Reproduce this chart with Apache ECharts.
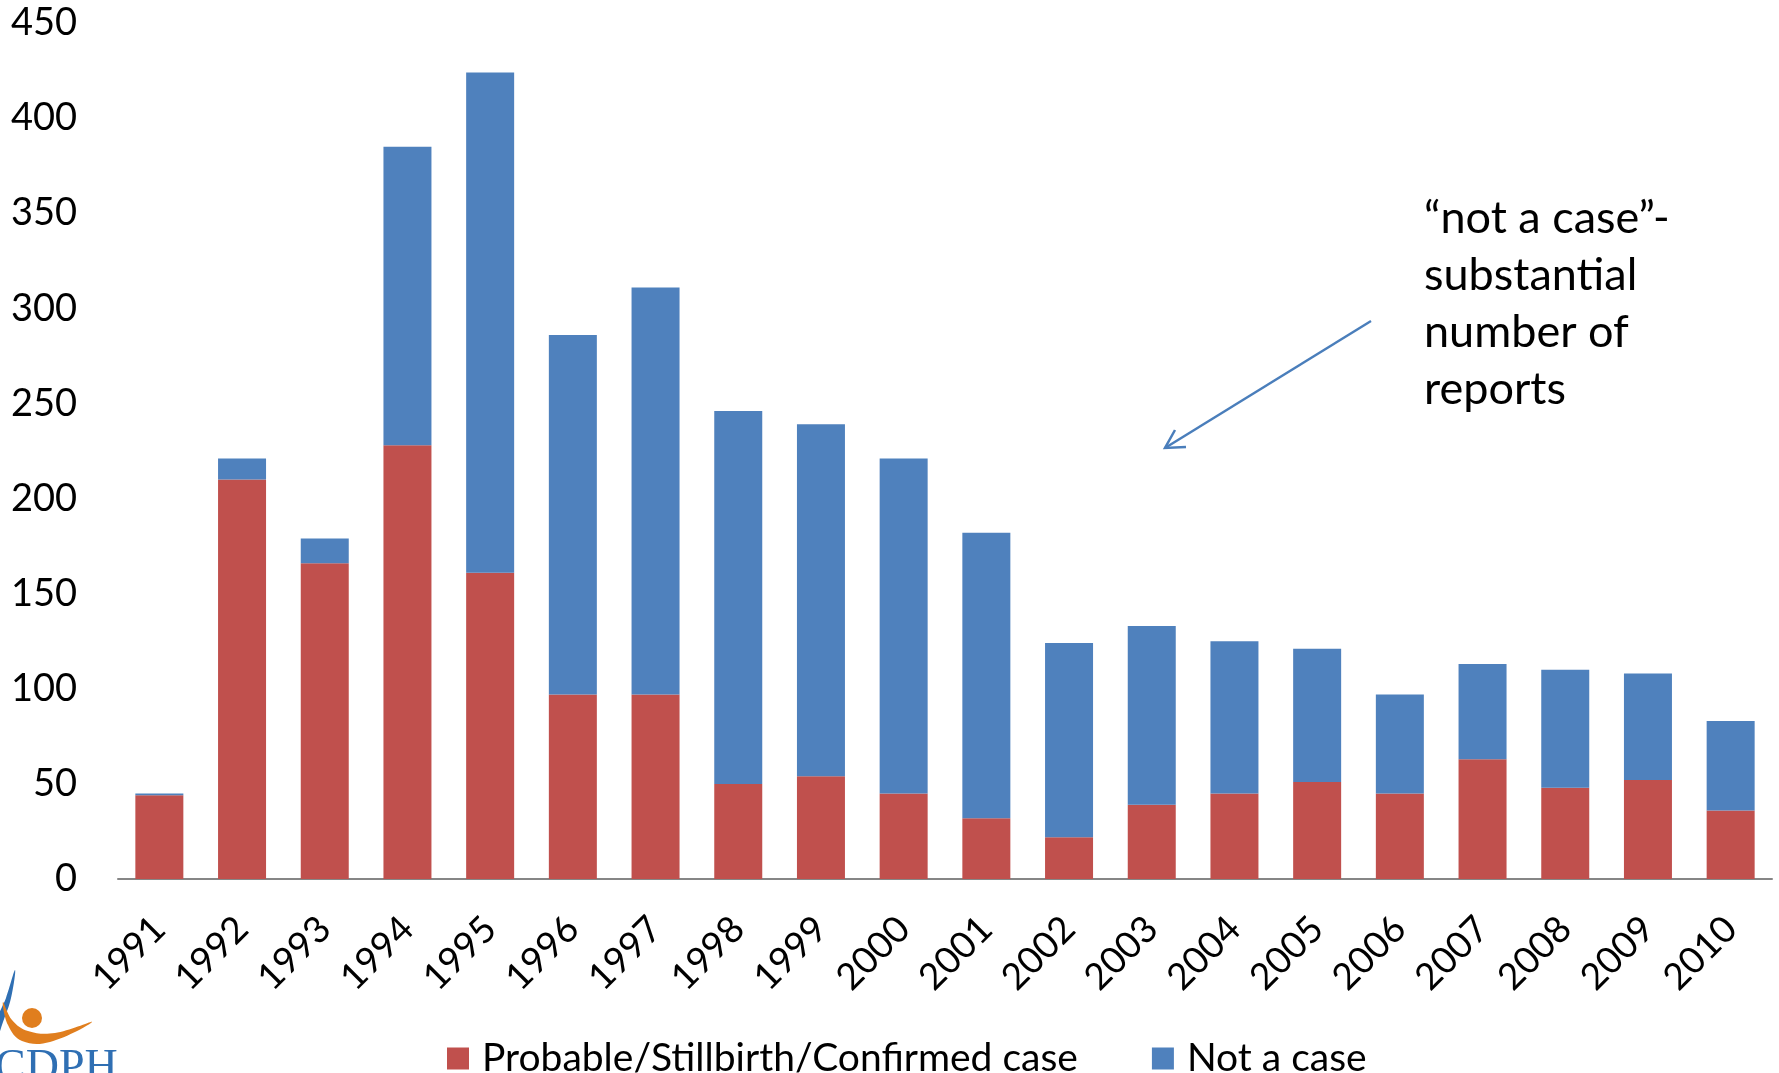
<!DOCTYPE html>
<html>
<head>
<meta charset="utf-8">
<title>Congenital syphilis reports by year</title>
<script src="https://cdn.jsdelivr.net/npm/echarts@6/dist/echarts.min.js"></script>
<style>
  html, body { margin: 0; padding: 0; background: #ffffff; }
  #chart { width: 1779px; height: 1073px; }
</style>
</head>
<body>
<div id="chart"></div>
<script>
// Report years on the category axis
const years = ['1991','1992','1993','1994','1995','1996','1997','1998','1999','2000',
               '2001','2002','2003','2004','2005','2006','2007','2008','2009','2010'];

// Probable / stillbirth / confirmed cases per year
const confirmedCases = [44, 210, 166, 228, 161, 97, 97, 50, 54, 45,
                        32, 22, 39, 45, 51, 45, 63, 48, 52, 36];

// Reports classified as "not a case" per year (stacked on top)
const notACase = [1, 11, 13, 157, 263, 189, 214, 196, 185, 176,
                  150, 102, 94, 80, 70, 52, 50, 62, 56, 47];

// Value axis ticks
const yMin = 0, yMax = 450, yStep = 50;

const seriesNames = ['Probable/Stillbirth/Confirmed case', 'Not a case'];
const calloutLines = ['\u201cnot a case\u201d-', 'substantial', 'number of', 'reports'];

const FONT = 'Lato, "Open Sans", sans-serif';
const RED = '#C0504D';
const BLUE = '#4F81BD';

const chart = echarts.init(document.getElementById('chart'), null, { renderer: 'canvas' });

const option = {
  animation: false,
  backgroundColor: '#ffffff',
  textStyle: { fontFamily: FONT },
  grid: { left: 118, right: 7, top: 23, bottom: 194, containLabel: false },
  legend: {
    data: seriesNames,
    left: 442,
    top: 1034,
    icon: 'rect',
    itemWidth: 22,
    itemHeight: 22,
    itemGap: 74,
    textStyle: { fontFamily: FONT, fontSize: 39, color: '#000', padding: [0, 0, 0, 8] }
  },
  xAxis: {
    type: 'category',
    data: years,
    axisLine: { show: true, lineStyle: { color: '#868686', width: 2 } },
    axisTick: { show: false },
    axisLabel: {
      interval: 0,
      rotate: 45,
      margin: 44,
      color: '#000',
      fontFamily: FONT,
      fontSize: 37
    }
  },
  yAxis: {
    type: 'value',
    min: yMin,
    max: yMax,
    interval: yStep,
    axisLine: { show: false },
    axisTick: { show: false },
    splitLine: { show: false },
    axisLabel: { margin: 41, color: '#000', fontFamily: FONT, fontSize: 38 }
  },
  series: [
    {
      name: seriesNames[0],
      type: 'bar',
      stack: 'reports',
      barWidth: 48,
      itemStyle: { color: RED },
      data: confirmedCases
    },
    {
      name: seriesNames[1],
      type: 'bar',
      stack: 'reports',
      barWidth: 48,
      itemStyle: { color: BLUE },
      data: notACase
    }
  ],
  graphic: [
    // callout text
    {
      type: 'text',
      x: 1424,
      y: 190,
      style: {
        text: calloutLines.join('\n'),
        fontFamily: FONT,
        fontSize: 45,
        lineHeight: 57,
        fill: '#000'
      }
    },
    // callout arrow shaft
    {
      type: 'line',
      shape: { x1: 1371, y1: 321, x2: 1165, y2: 448 },
      style: { stroke: '#4A7EBB', lineWidth: 2.5 }
    },
    // callout arrow head
    {
      type: 'polyline',
      shape: { points: [[1175, 430], [1165, 448], [1186, 447]] },
      style: { stroke: '#4A7EBB', lineWidth: 2.5, fill: null }
    },
    // department logo (bottom-left corner): blue swoosh
    {
      type: 'polygon',
      shape: { points: [[15, 970], [11, 998], [3, 1022], [-3, 1038], [-3, 1020], [6, 998]], smooth: 0.4 },
      style: { fill: '#2F6FB3' }
    },
    // logo: orange head
    {
      type: 'circle',
      shape: { cx: 32, cy: 1018, r: 10 },
      style: { fill: '#E07E1E' }
    },
    // logo: orange arc
    {
      type: 'polygon',
      shape: { points: [[3, 1002], [8, 1025], [22, 1041], [50, 1042], [92, 1022], [55, 1033], [28, 1031], [12, 1020]], smooth: 0.4 },
      style: { fill: '#E07E1E' }
    },
    // logo: lettering
    {
      type: 'text',
      x: -5,
      y: 1046,
      style: {
        text: 'CDPH',
        fontFamily: '"Liberation Serif", "DejaVu Serif", serif',
        fontSize: 46,
        fill: '#2F6FB3'
      }
    }
  ]
};

chart.setOption(option);
</script>
</body>
</html>
